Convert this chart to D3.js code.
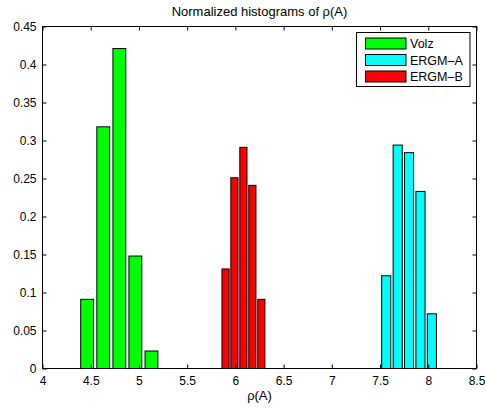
<!DOCTYPE html>
<html>
<head>
<meta charset="utf-8">
<script src="https://cdn.jsdelivr.net/npm/d3@7"></script>
<style>
  html, body { margin: 0; padding: 0; background: #fff; }
  svg { display: block; }
  text { font-family: "Liberation Sans", Arial, Helvetica, sans-serif; fill: #000; }
</style>
</head>
<body>
<svg id="chart" width="486" height="411"></svg>
<script>
// ---- data ----
const seriesNames = ["Volz", "ERGM\u2013A", "ERGM\u2013B"];
const seriesColors = ["#00ff00", "#00ffff", "#ff0000"];
const volzCenters = [4.463, 4.630, 4.797, 4.963, 5.130];
const volzValues  = [0.091, 0.318, 0.421, 0.148, 0.023];
const ergmACenters = [7.564, 7.683, 7.801, 7.919, 8.037];
const ergmAValues  = [0.122, 0.294, 0.284, 0.233, 0.072];
const ergmBCenters = [5.898, 5.990, 6.083, 6.176, 6.269];
const ergmBValues  = [0.131, 0.251, 0.291, 0.241, 0.091];
const xTicks = [4, 4.5, 5, 5.5, 6, 6.5, 7, 7.5, 8, 8.5];
const yTicks = [0, 0.05, 0.1, 0.15, 0.2, 0.25, 0.3, 0.35, 0.4, 0.45];
const titleText = "Normalized histograms of \u03c1(A)";
const xLabelText = "\u03c1(A)";

// ---- layout ----
const svg = d3.select("#chart");
const L = 42.5, R = 476.5, T = 26.5, B = 368.5;
const x = d3.scaleLinear().domain([4, 8.5]).range([L, R]);
const y = d3.scaleLinear().domain([0, 0.45]).range([B, T]);

const series = [
  { name: seriesNames[0], color: seriesColors[0], c: volzCenters, v: volzValues },
  { name: seriesNames[1], color: seriesColors[1], c: ergmACenters, v: ergmAValues },
  { name: seriesNames[2], color: seriesColors[2], c: ergmBCenters, v: ergmBValues }
];

// bars
series.forEach(s => {
  const step = (s.c[s.c.length - 1] - s.c[0]) / (s.c.length - 1);
  const bw = step * 0.8;
  svg.append("g").selectAll("rect").data(s.c.map((c, i) => ({ c, v: s.v[i] })))
    .join("rect")
    .attr("x", d => x(d.c - bw / 2))
    .attr("width", d => x(d.c + bw / 2) - x(d.c - bw / 2))
    .attr("y", d => y(d.v))
    .attr("height", d => y(0) - y(d.v))
    .attr("fill", s.color)
    .attr("stroke", "#000")
    .attr("stroke-width", 1);
});

// axes (ticks inward)
const tl = 4;
const fs = "12px";
const gxB = svg.append("g").attr("transform", `translate(0,${B})`)
  .call(d3.axisBottom(x).tickValues(xTicks).tickSize(-tl).tickPadding(8).tickFormat(d3.format("")));
const gxT = svg.append("g").attr("transform", `translate(0,${T})`)
  .call(d3.axisTop(x).tickValues(xTicks).tickSize(-tl).tickFormat(""));
const gyL = svg.append("g").attr("transform", `translate(${L},0)`)
  .call(d3.axisLeft(y).tickValues(yTicks).tickSize(-tl).tickPadding(6).tickFormat(d3.format("")));
const gyR = svg.append("g").attr("transform", `translate(${R},0)`)
  .call(d3.axisRight(y).tickValues(yTicks).tickSize(-tl).tickFormat(""));
[gxB, gxT, gyL, gyR].forEach(g => {
  g.select(".domain").remove();
  g.selectAll(".tick line").attr("stroke", "#000");
  g.selectAll("text").style("font-size", fs).style("font-family", null).attr("fill", "#000");
});

// frame
svg.append("rect").attr("x", L).attr("y", T).attr("width", R - L).attr("height", B - T)
  .attr("fill", "none").attr("stroke", "#000").attr("stroke-width", 1);

// title & label
svg.append("text").attr("x", (L + R) / 2).attr("y", 16).attr("text-anchor", "middle")
  .style("font-size", "13px").text(titleText);
svg.append("text").attr("x", (L + R) / 2).attr("y", 400).attr("text-anchor", "middle")
  .style("font-size", "13px").text(xLabelText);

// legend
const lg = svg.append("g");
lg.append("rect").attr("x", 356.5).attr("y", 32.5).attr("width", 113.5).attr("height", 54)
  .attr("fill", "#fff").attr("stroke", "#000").attr("stroke-width", 1);
series.forEach((s, i) => {
  const yy = 38 + i * 16.5;
  lg.append("rect").attr("x", 365.5).attr("y", yy).attr("width", 40.5).attr("height", 11)
    .attr("fill", s.color).attr("stroke", "#000").attr("stroke-width", 1);
  lg.append("text").attr("x", 410).attr("y", yy + 10).style("font-size", "12.5px").text(s.name);
});
</script>
</body>
</html>
